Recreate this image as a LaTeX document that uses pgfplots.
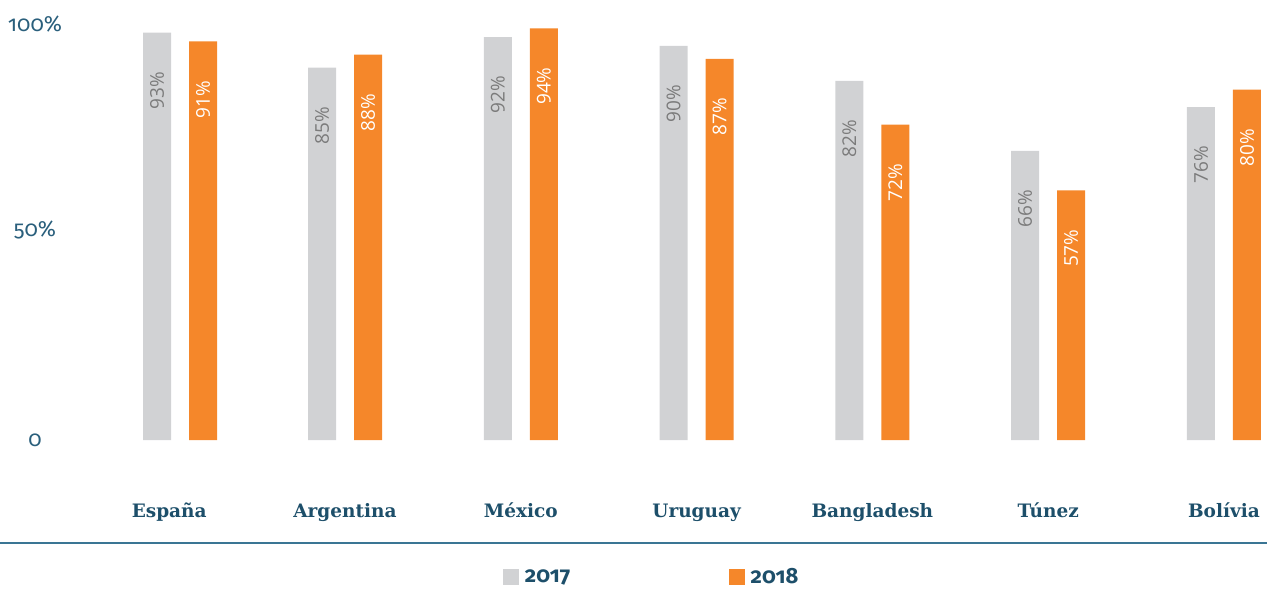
\documentclass[border=0pt]{standalone}
\usepackage{fontspec}
\setmainfont{Fira Sans}
\newfontfamily\tickfont[Numbers=OldStyle]{Fira Sans}
\newfontfamily\countryfont{DejaVu Serif}
\newfontfamily\valfont{Open Sans}
\usepackage{pgfplots}
\pgfplotsset{compat=1.18}
\definecolor{barGrey}{HTML}{D1D2D4}
\definecolor{barOrange}{HTML}{F5872A}
\definecolor{teal}{HTML}{1D4F6A}
\definecolor{tickteal}{HTML}{2A5F7C}
\definecolor{linecol}{HTML}{3A7594}
\definecolor{valgrey}{HTML}{7B7B7B}
\pgfplotsset{sq legend/.style={legend image code/.code={\fill[##1,draw=none] (0pt,-8pt) rectangle (16pt,8pt);}}}
\begin{document}
\begin{tikzpicture}[x=1pt,y=1pt]
\useasboundingbox (0,-150) rectangle (1267,440);
\begin{axis}[
  at={(0,0)}, anchor=south west,
  scale only axis, width=1267pt, height=440pt,
  xmin=-0.9625, xmax=6.2446, ymin=0, ymax=100.46,
  ybar, bar width=28pt,
  axis line style={draw=none}, tick style={draw=none},
  xtick={0,...,6},
  xticklabels={España, Argentina, México, Uruguay, Bangladesh, Túnez, Bolívia},
  xticklabel style={font=\countryfont\bfseries\fontsize{18.5}{20}\selectfont, text=teal, anchor=base, yshift=-73pt},
  ytick={0,50,100},
  yticklabels={0,\raisebox{-15pt}[0pt][0pt]{50\%},\raisebox{-29pt}[0pt][0pt]{100\%}},
  yticklabel style={font=\tickfont\fontsize{22}{24}\selectfont, text=tickteal, anchor=center, xshift=35pt, inner sep=0pt},
  legend style={at={(0.5145,-0.3114)}, anchor=center, draw=none, fill=none,
    inner sep=0pt, nodes={inner ysep=0pt},
    font=\tickfont\bfseries\fontsize{22}{24}\selectfont, text=teal,
    legend columns=2,
    /tikz/every odd column/.append style={column sep=3.5pt},
    /tikz/every even column/.append style={column sep=157pt}},
  clip=false,
]
\addplot[fill=barGrey, draw=none, bar shift=-23pt, sq legend,
  nodes near coords={\pgfmathprintnumber[assume math mode=true]{\pgfplotspointmeta}\%},
  every node near coord/.append style={font=\valfont\fontsize{19}{20}\selectfont, text=valgrey, yshift=-39pt, rotate=90, anchor=east, inner sep=0pt}]
  coordinates {(0.0626,93) (1,85) (2,92) (3,90) (4,82) (5,66) (6,76)};
\addlegendentry{2017}
\addplot[fill=barOrange, draw=none, bar shift=23pt, sq legend,
  nodes near coords={\pgfmathprintnumber[assume math mode=true]{\pgfplotspointmeta}\%},
  every node near coord/.append style={font=\valfont\fontsize{19}{20}\selectfont, text=white, yshift=-39pt, rotate=90, anchor=east, inner sep=0pt}]
  coordinates {(0.0626,91) (1,88) (2,94) (3,87) (4,72) (5,57) (6,80)};
\addlegendentry{2018}
\end{axis}
\draw[linecol, line width=1.3pt] (0,-103) -- (1267,-103);
\end{tikzpicture}
\end{document}
